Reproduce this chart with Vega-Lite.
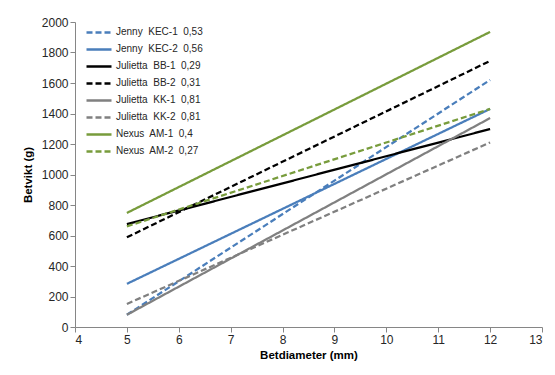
{
  "$schema": "https://vega.github.io/schema/vega-lite/v6.json",
  "width": 467,
  "height": 305,
  "autosize": {"type": "none"},
  "padding": {"left": 75, "top": 22, "right": 13, "bottom": 48},
  "background": "white",
  "config": {
    "view": {"stroke": null},
    "font": "Liberation Sans",
    "axis": {
      "grid": false,
      "domainColor": "#868686",
      "tickColor": "#868686",
      "labelColor": "#262626",
      "labelFont": "Liberation Sans",
      "labelFontSize": 12,
      "titleFont": "Liberation Sans",
      "titleFontSize": 11.5,
      "titleFontWeight": "bold",
      "titleColor": "#000000",
      "tickSize": 5
    }
  },
  "data": {
    "values": [
      {"serie": "Jenny\u00a0 KEC-1\u00a0 0,53", "d": 5, "w": 80},
      {"serie": "Jenny\u00a0 KEC-1\u00a0 0,53", "d": 12, "w": 1620},
      {"serie": "Jenny\u00a0 KEC-2\u00a0 0,56", "d": 5, "w": 283},
      {"serie": "Jenny\u00a0 KEC-2\u00a0 0,56", "d": 12, "w": 1430},
      {"serie": "Julietta\u00a0 BB-1\u00a0 0,29", "d": 5, "w": 675},
      {"serie": "Julietta\u00a0 BB-1\u00a0 0,29", "d": 12, "w": 1298},
      {"serie": "Julietta\u00a0 BB-2\u00a0 0,31", "d": 5, "w": 588},
      {"serie": "Julietta\u00a0 BB-2\u00a0 0,31", "d": 12, "w": 1745},
      {"serie": "Julietta\u00a0 KK-1\u00a0 0,81", "d": 5, "w": 80},
      {"serie": "Julietta\u00a0 KK-1\u00a0 0,81", "d": 12, "w": 1370},
      {"serie": "Julietta\u00a0 KK-2\u00a0 0,81", "d": 5, "w": 151},
      {"serie": "Julietta\u00a0 KK-2\u00a0 0,81", "d": 12, "w": 1210},
      {"serie": "Nexus\u00a0 AM-1\u00a0 0,4", "d": 5, "w": 748},
      {"serie": "Nexus\u00a0 AM-1\u00a0 0,4", "d": 12, "w": 1935},
      {"serie": "Nexus\u00a0 AM-2\u00a0 0,27", "d": 5, "w": 660},
      {"serie": "Nexus\u00a0 AM-2\u00a0 0,27", "d": 12, "w": 1430}
    ]
  },
  "mark": {"type": "line", "strokeWidth": 2.25},
  "encoding": {
    "x": {
      "field": "d", "type": "quantitative",
      "scale": {"domain": [4, 13], "nice": false, "zero": false},
      "axis": {"values": [4,5,6,7,8,9,10,11,12,13], "format": "d", "title": "Betdiameter (mm)", "titlePadding": 4}
    },
    "y": {
      "field": "w", "type": "quantitative",
      "scale": {"domain": [0, 2000], "nice": false},
      "axis": {"values": [0,200,400,600,800,1000,1200,1400,1600,1800,2000], "format": "d", "title": "Betvikt (g)", "titlePadding": 8}
    },
    "color": {
      "field": "serie", "type": "nominal", "title": null,
      "scale": {
        "domain": ["Jenny\u00a0 KEC-1\u00a0 0,53", "Jenny\u00a0 KEC-2\u00a0 0,56", "Julietta\u00a0 BB-1\u00a0 0,29", "Julietta\u00a0 BB-2\u00a0 0,31", "Julietta\u00a0 KK-1\u00a0 0,81", "Julietta\u00a0 KK-2\u00a0 0,81", "Nexus\u00a0 AM-1\u00a0 0,4", "Nexus\u00a0 AM-2\u00a0 0,27"],
        "range": ["#4a7ebb", "#4a7ebb", "#000000", "#000000", "#808080", "#808080", "#789c3c", "#789c3c"]
      },
      "legend": {
        "orient": "none", "legendX": 10, "legendY": 2,
        "symbolType": "stroke", "symbolSize": 625, "symbolStrokeWidth": 2.5,
        "labelFont": "Liberation Sans", "labelFontSize": 10, "labelColor": "#262626",
        "rowPadding": 0, "clipHeight": 16.8, "labelOffset": 3
      }
    },
    "strokeDash": {
      "field": "serie", "type": "nominal", "title": null,
      "scale": {
        "domain": ["Jenny\u00a0 KEC-1\u00a0 0,53", "Jenny\u00a0 KEC-2\u00a0 0,56", "Julietta\u00a0 BB-1\u00a0 0,29", "Julietta\u00a0 BB-2\u00a0 0,31", "Julietta\u00a0 KK-1\u00a0 0,81", "Julietta\u00a0 KK-2\u00a0 0,81", "Nexus\u00a0 AM-1\u00a0 0,4", "Nexus\u00a0 AM-2\u00a0 0,27"],
        "range": [[6,3], [1,0], [1,0], [6,3], [1,0], [6,3], [1,0], [6,3]]
      }
    }
  }
}
